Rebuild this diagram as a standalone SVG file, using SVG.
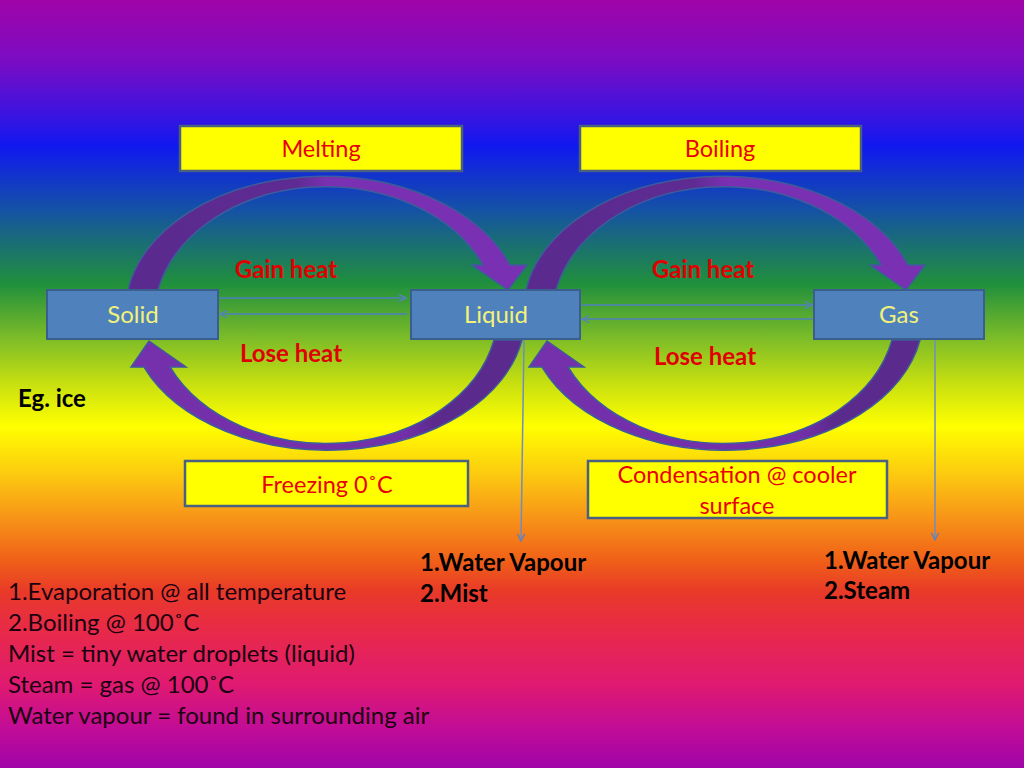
<svg xmlns="http://www.w3.org/2000/svg" xmlns:xlink="http://www.w3.org/1999/xlink" width="1024" height="768" viewBox="0 0 1024 768">
<defs>
<linearGradient id="bg" x1="0" y1="0" x2="0" y2="1">
<stop offset="0" stop-color="#a004a8"/>
<stop offset="0.08" stop-color="#7a0cc4"/>
<stop offset="0.15" stop-color="#3a14e0"/>
<stop offset="0.19" stop-color="#1018f0"/>
<stop offset="0.27" stop-color="#1450a8"/>
<stop offset="0.32" stop-color="#1a7070"/>
<stop offset="0.37" stop-color="#20903c"/>
<stop offset="0.44" stop-color="#7cbc28"/>
<stop offset="0.50" stop-color="#c8e010"/>
<stop offset="0.555" stop-color="#ffff00"/>
<stop offset="0.62" stop-color="#fcc810"/>
<stop offset="0.67" stop-color="#f89818"/>
<stop offset="0.73" stop-color="#f06018"/>
<stop offset="0.77" stop-color="#e83a28"/>
<stop offset="0.82" stop-color="#e82a48"/>
<stop offset="0.89" stop-color="#e01a70"/>
<stop offset="0.95" stop-color="#c00c98"/>
<stop offset="1" stop-color="#a004a8"/>
</linearGradient>
<linearGradient id="topband" x1="0" y1="0" x2="1" y2="0">
<stop offset="0" stop-color="#5a2a8e"/>
<stop offset="0.42" stop-color="#5e2b92"/>
<stop offset="0.5" stop-color="#7a30b2"/>
<stop offset="1" stop-color="#7a30b2"/>
</linearGradient>
<linearGradient id="botband" x1="0" y1="0" x2="1" y2="0">
<stop offset="0" stop-color="#7530ac"/>
<stop offset="0.7" stop-color="#7230a8"/>
<stop offset="0.78" stop-color="#5a2a8c"/>
<stop offset="1" stop-color="#5a2a8c"/>
</linearGradient>
<marker id="open" viewBox="0 0 10 10" refX="9" refY="5" markerWidth="9" markerHeight="9" markerUnits="userSpaceOnUse" orient="auto">
<path d="M1,1 L9,5 L1,9" fill="none" stroke="#5a80c0" stroke-width="1.5"/>
</marker>
<path id="arcTop" d="M128,290 A198,134 0 0 1 510,265 L527,265 L508,290 L472,265 L483,265 A172,132 0 0 0 158,290 Z"/>
<path id="arcBot" d="M522,340 A198,134 0 0 1 144,367 L131,367 L149,341 L186,367 L170,367 A172,132 0 0 0 494,340 Z"/>
</defs>
<style>
.band { stroke: #3d5c9c; stroke-width: 1.5; }
.top { fill: url(#topband); }
.bot { fill: url(#botband); }
.ybox { fill: #ffff00; stroke: #4a6080; stroke-width: 2.5; }
.bbox { fill: #4f81bd; stroke: #3a5f8e; stroke-width: 2; }
.t { font-family: Lato, "Liberation Sans", sans-serif; }
.red { fill: #e8000a; font-size: 23.5px; text-anchor: middle; }
.state { fill: #f2f27a; font-size: 24px; text-anchor: middle; }
.heat { fill: #e00000; font-size: 24px; font-weight: bold; text-anchor: middle; }
.blk { fill: #000000; font-size: 24px; font-weight: bold; }
.note { fill: #1a0010; font-size: 24px; }
.line { stroke: #4f7fbf; stroke-width: 1.5; fill: none; }
.vline { stroke: #6f8cc4; stroke-width: 1.5; fill: none; }
</style>
<rect x="0" y="0" width="1024" height="768" fill="url(#bg)"/>

<g id="connectors">
<use xlink:href="#arcTop" href="#arcTop" class="band top"/>
<use xlink:href="#arcBot" href="#arcBot" class="band bot"/>
<use xlink:href="#arcTop" href="#arcTop" class="band top" transform="translate(398,0)"/>
<use xlink:href="#arcBot" href="#arcBot" class="band bot" transform="translate(398,0)"/>
<line class="line" x1="220" y1="298" x2="406" y2="298" marker-end="url(#open)"/>
<line class="line" x1="407" y1="314" x2="220" y2="314" marker-end="url(#open)"/>
<line class="line" x1="582" y1="305" x2="812" y2="305" marker-end="url(#open)"/>
<line class="line" x1="812" y1="319" x2="582" y2="319" marker-end="url(#open)"/>
<line class="vline" x1="524" y1="340" x2="521" y2="541" marker-end="url(#open)"/>
<line class="vline" x1="935" y1="340" x2="935" y2="540" marker-end="url(#open)"/>
</g>

<g id="melting">
<rect class="ybox" x="180" y="126" width="282" height="45"/>
<text class="t red" x="321" y="157">Melting</text>
</g>
<g id="boiling">
<rect class="ybox" x="580" y="126" width="281" height="45"/>
<text class="t red" x="720" y="157">Boiling</text>
</g>
<g id="solid">
<rect class="bbox" x="47" y="290" width="171" height="49"/>
<text class="t state" x="133" y="323">Solid</text>
</g>
<g id="liquid">
<rect class="bbox" x="411" y="290" width="169" height="49"/>
<text class="t state" x="496" y="323">Liquid</text>
</g>
<g id="gas">
<rect class="bbox" x="814" y="290" width="170" height="49"/>
<text class="t state" x="899" y="323">Gas</text>
</g>
<g id="freezing">
<rect class="ybox" x="185" y="461" width="283" height="45"/>
<text class="t red" x="327" y="493">Freezing 0˚C</text>
</g>
<g id="condensation">
<rect class="ybox" x="588" y="461" width="299" height="57"/>
<text class="t red" x="737" y="483">Condensation @ cooler</text>
<text class="t red" x="737" y="514">surface</text>
</g>

<g id="labels">
<text class="t heat" x="286" y="278">Gain heat</text>
<text class="t heat" x="291" y="362">Lose heat</text>
<text class="t heat" x="703" y="278">Gain heat</text>
<text class="t heat" x="705" y="365">Lose heat</text>
<text class="t blk" x="18" y="407">Eg. ice</text>
<text class="t blk" x="420" y="571">1.Water Vapour</text>
<text class="t blk" x="420" y="602">2.Mist</text>
<text class="t blk" x="824" y="569">1.Water Vapour</text>
<text class="t blk" x="824" y="599">2.Steam</text>
</g>

<g id="notes">
<text class="t note" x="8" y="600">1.Evaporation @ all temperature</text>
<text class="t note" x="8" y="631">2.Boiling @ 100˚C</text>
<text class="t note" x="8" y="662">Mist = tiny water droplets (liquid)</text>
<text class="t note" x="8" y="693">Steam = gas @ 100˚C</text>
<text class="t note" x="8" y="724">Water vapour = found in surrounding air</text>
</g>
</svg>
